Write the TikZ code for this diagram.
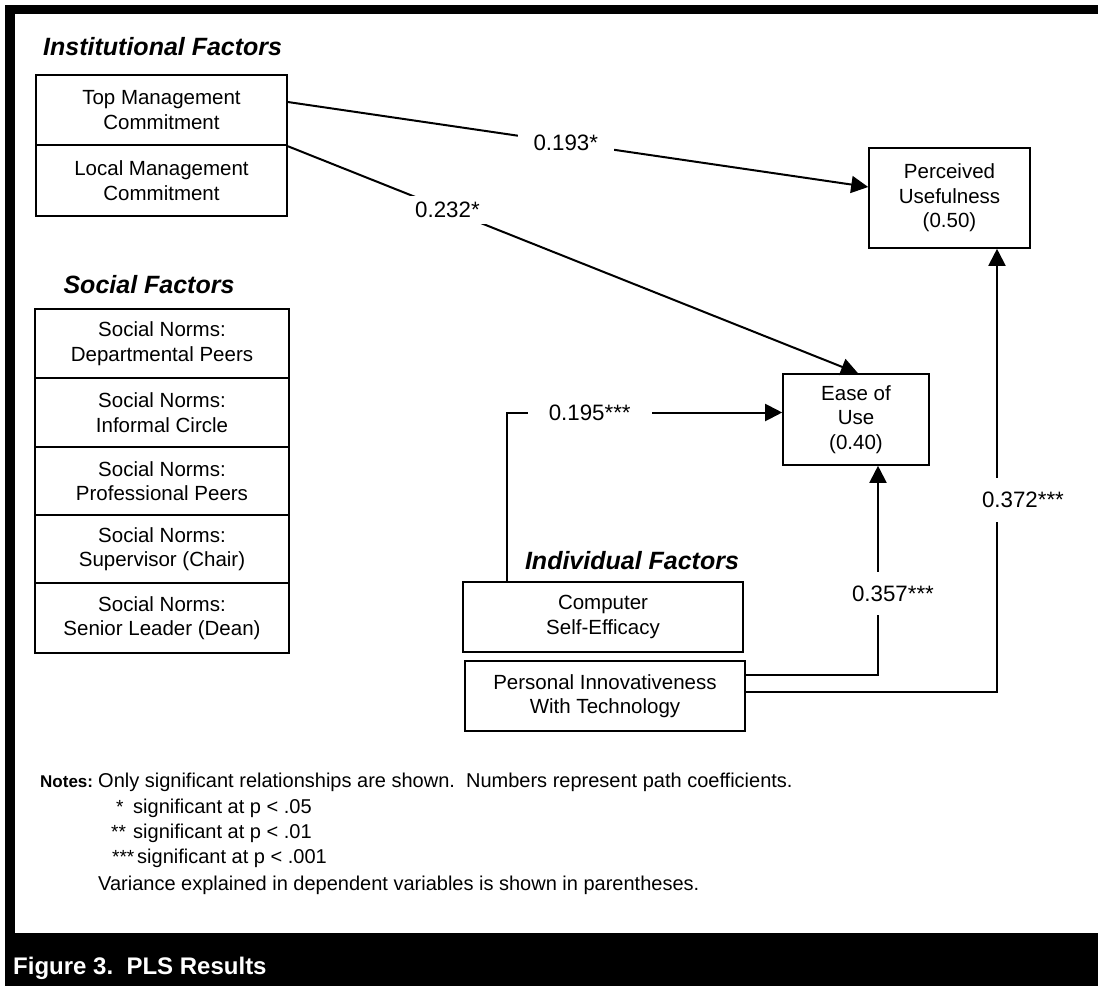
\documentclass[tikz,border=0pt]{standalone}
\usepackage{fontspec}
\setmainfont{Liberation Sans}
\usetikzlibrary{arrows.meta,calc}
\begin{document}
\begin{tikzpicture}[x=1pt,y=-1pt,
  box/.style={draw,line width=1.6pt,rectangle,inner sep=0pt,align=center,font=\fontsize{20.5}{24.5}\selectfont},
  conn/.style={line width=2pt,-{Triangle[length=17pt,width=17pt]}},
  coef/.style={fill=white,font=\fontsize{22.3}{26}\selectfont,inner ysep=6pt,inner xsep=15pt},
  grp/.style={font=\fontsize{25}{30}\selectfont\bfseries\itshape,inner sep=0pt},
  note/.style={font=\fontsize{20}{24}\selectfont,inner sep=0pt,anchor=base west},
  star/.style={font=\fontsize{19}{22}\selectfont,inner sep=0pt,anchor=base west}]
\useasboundingbox (0,0) rectangle (1098,986);
\fill[black] (5,5) rectangle (1098,14);
\fill[black] (5,5) rectangle (15,986);
\fill[black] (5,933) rectangle (1098,986);
% group titles
\node[grp,anchor=base west] (tInst) at (43,55) {Institutional Factors};
\node[grp,anchor=base] (tSoc) at (149,293) {Social Factors};
\node[grp,anchor=base] (tInd) at (632,569) {Individual Factors};
% institutional
\node[box,minimum width=251pt,minimum height=70pt] (tm) at (161.5,110) {Top Management\\Commitment};
\node[box,minimum width=251pt,minimum height=71pt] (lm) at (161.5,180.5) {Local Management\\Commitment};
% social
\node[box,minimum width=254pt,minimum height=69pt] (s1) at (162,343.5) {Social Norms:\\Departmental Peers};
\node[box,minimum width=254pt,minimum height=69pt] (s2) at (162,412.5) {Social Norms:\\Informal Circle};
\node[box,minimum width=254pt,minimum height=68pt] (s3) at (162,481) {Social Norms:\\Professional Peers};
\node[box,minimum width=254pt,minimum height=69pt] (s4) at (162,549) {Social Norms:\\Supervisor (Chair)};
\node[box,minimum width=254pt,minimum height=70pt] (s5) at (162,618) {Social Norms:\\Senior Leader (Dean)};
% dependent
\node[box,minimum width=161pt,minimum height=100pt] (pu) at (949.5,198) {Perceived\\Usefulness\\(0.50)};
\node[box,minimum width=146pt,minimum height=91pt] (eou) at (856,419.5) {Ease of\\Use\\(0.40)};
% individual
\node[box,minimum width=280pt,minimum height=70pt] (cse) at (603,617) {Computer\\Self-Efficacy};
\node[box,minimum width=280pt,minimum height=70pt] (pit) at (605,696) {Personal Innovativeness\\With Technology};
% connectors
\draw[conn] ($(tm.east)+(0,-8)$) -- node[coef,pos=0.479,inner xsep=16pt]{0.193*} ($(pu.west)+(0,-11)$);
\draw[conn] ($(lm.north east)+(0,2)$) -- node[coef,pos=0.28]{0.232*} ($(eou.north)+(2,0)$);
\draw[conn] ($(cse.north west)+(45,0)$) |- node[coef,pos=0.65,inner xsep=21pt,inner ysep=3pt]{0.195***} ($(eou.west)+(0,-7)$);
\draw[conn] ($(pit.east)+(0,-21)$) -| node[coef,pos=0.695,xshift=15pt,inner ysep=14pt,inner xsep=2pt]{0.357***} ($(eou.south)+(22,0)$);
\draw[conn] ($(pit.east)+(0,-4)$) -| node[coef,pos=0.717,xshift=26pt,inner ysep=14pt,inner xsep=2pt]{0.372***} ($(pu.south)+(47.5,0)$);
% notes
\node[note,font=\fontsize{17}{22}\selectfont\bfseries] (nh) at (40,787) {Notes:};
\node[note] (n1) at (98,787) {Only significant relationships are shown.\ \ Numbers represent path coefficients.};
\node[star] (a1) at (116,813) {*};
\node[note] (b1) at (133,813) {significant at p < .05};
\node[star] (a2) at (111,838) {**};
\node[note] (b2) at (133,838) {significant at p < .01};
\node[star] (a3) at (112,863) {***};
\node[note] (b3) at (137,863) {significant at p < .001};
\node[note] (n5) at (98,890) {Variance explained in dependent variables is shown in parentheses.};
% caption
\node[anchor=base west,text=white,font=\fontsize{24}{28}\selectfont\bfseries,inner sep=0pt] (cap) at (13,974) {Figure 3.\ \ PLS Results};
\end{tikzpicture}
\end{document}
